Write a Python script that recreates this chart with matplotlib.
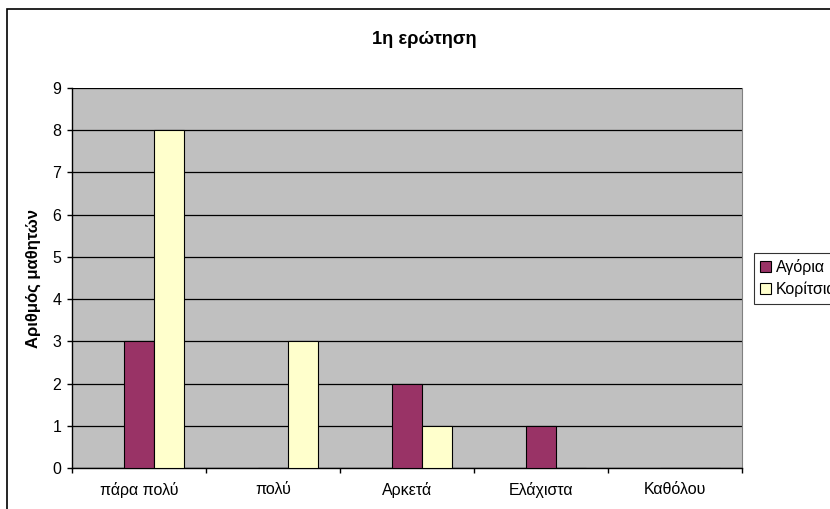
import matplotlib.pyplot as plt
import numpy as np
from matplotlib.patches import Rectangle

categories = ['πάρα πολύ', 'πολύ', 'Αρκετά', 'Ελάχιστα', 'Καθόλου']
boys = [3, 0, 2, 1, 0]
girls = [8, 3, 1, 0, 0]
series_labels = ['Αγόρια', 'Κορίτσια']
title = '1η ερώτηση'
ylabel = 'Αριθμός μαθητών'

plt.rcParams['font.family'] = ['Liberation Sans', 'DejaVu Sans']

fig = plt.figure(figsize=(8.3, 5.09), dpi=100)

# outer chart frame (runs off the right and bottom edge)
fig.patches.append(Rectangle((7 / 830, -0.2), 1.5, 0.2 + 1 - 9 / 509,
                             transform=fig.transFigure, fill=False,
                             edgecolor='black', linewidth=1.2))

ax = fig.add_axes([72 / 830, 1 - 468 / 509, 670 / 830, 380 / 509])
ax.set_facecolor('#C0C0C0')

x = np.arange(len(categories)) + 0.5
w = 0.222
ax.bar(x, boys, width=w, color='#993366', edgecolor='black', linewidth=0.8,
       label=series_labels[0], zorder=3)
ax.bar(x + w, girls, width=w, color='#FFFFCC', edgecolor='black', linewidth=0.8,
       label=series_labels[1], zorder=3)

ax.set_xlim(0, len(categories))
ax.set_ylim(0, 9)
ax.set_yticks(range(10))
ax.yaxis.grid(True, color='black', linewidth=0.9, zorder=1)
ax.set_axisbelow(True)

# category boundaries as major ticks, labels on minor ticks
ax.set_xticks(range(len(categories) + 1))
ax.set_xticklabels([])
ax.set_xticks(x, minor=True)
ax.set_xticklabels(categories, minor=True)
ax.tick_params(axis='x', which='minor', length=0, pad=10, labelsize=11.5)
ax.tick_params(axis='x', which='major', direction='out', length=3.6, width=1)
ax.tick_params(axis='y', direction='out', length=3.6, width=1, labelsize=11.5, pad=4)

ax.spines['top'].set_visible(False)
ax.spines['right'].set_color('#808080')
ax.spines['left'].set_linewidth(1)
ax.spines['bottom'].set_linewidth(1)

ax.set_ylabel(ylabel, fontsize=12, fontweight='bold', labelpad=8)
fig.text(424 / 830, 1 - 40 / 509, title, ha='center', va='center',
         fontsize=13.2, fontweight='bold')

# legend sits at the right edge and is cut off there, as in the original
leg = fig.legend(loc='upper left', bbox_to_anchor=(754 / 830, 1 - 253 / 509),
                 frameon=True, fancybox=False, edgecolor='black',
                 fontsize=11.5, handlelength=0.65, handleheight=0.65,
                 handletextpad=0.3, borderpad=0.4, labelspacing=0.4,
                 borderaxespad=0)
leg.get_frame().set_linewidth(0.8)

fig.savefig('out.png', dpi=100)
